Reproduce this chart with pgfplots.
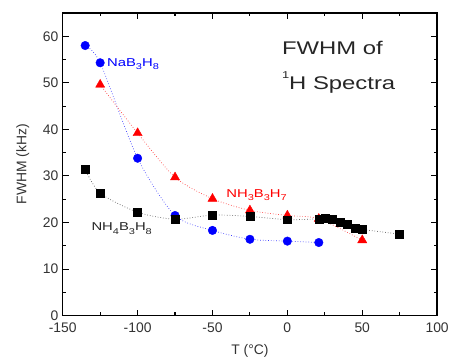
\documentclass[border=0pt]{standalone}
\usepackage{amsmath}
\usepackage{pgfplots}
\pgfplotsset{compat=1.18}
\usepackage{fontspec}
\setmainfont{Liberation Sans}
\newfontfamily\widefont{Liberation Sans}[FakeStretch=1.3]
\begin{document}
\begin{tikzpicture}
\begin{axis}[
  at={(0,0)}, anchor=south west,
  scale only axis, width=376bp, height=304bp,
  xmin=-150, xmax=100, ymin=0, ymax=65,
  xtick={-150,-100,...,100}, ytick={0,10,...,60},
  minor x tick num=1, minor y tick num=1,
  tick align=inside,
  major tick length=6bp, minor tick length=3.5bp,
  axis line style={line width=1.3pt},
  every tick/.style={line width=1.1pt, black},
  /pgf/number format/assume math mode=true,
  ticklabel style={font=\fontsize{14}{15}\selectfont, text=black!80},
  xticklabel style={yshift=-4bp},
  yticklabel style={xshift=-1bp},
  xlabel={T (°C)}, ylabel={FWHM (kHz)},
  label style={font=\fontsize{14}{15}\selectfont, text=black!80},
  xlabel style={at={(axis description cs:0.5,0)}, anchor=north, yshift=-25bp},
  ylabel style={at={(axis description cs:0,0.5)}, anchor=south, xshift=0pt, yshift=30bp},
  clip=false,
]
\addplot[blue!75, dotted, line width=0.7pt, smooth, tension=0.45] coordinates {
(-135,58) (-125,54.3) (-100,33.8) (-75,21.5) (-50,18.3) (-25,16.4) (0,16.0) (21,15.7)};
\addplot[red!75, dotted, line width=0.7pt, smooth, tension=0.45] coordinates {
(-125,49.6) (-100,39.2) (-75,29.7) (-50,25.1) (-25,22.6) (0,21.5) (21,20.8) (50,16.2)};
\addplot[black!65, dotted, line width=0.7pt, smooth, tension=0.45] coordinates {
(-135,31.4) (-125,26.3) (-100,22.2) (-75,20.7) (-50,21.6) (-25,21.3) (0,20.6) (21,20.8) (25,20.9) (30,20.7) (35,20.0) (40,19.6) (45,18.7) (50,18.5) (75,17.5)};
\addplot[only marks, mark=*, blue, mark size=4.3bp] coordinates {
(-135,58) (-125,54.3) (-100,33.8) (-75,21.5) (-50,18.3) (-25,16.4) (0,16.0) (21,15.7)};
\addplot[only marks, mark=triangle*, red, mark size=5.3bp] coordinates {
(-125,49.6) (-100,39.2) (-75,29.7) (-50,25.1) (-25,22.6) (0,21.5) (21,20.8) (50,16.2)};
\addplot[only marks, mark=square*, black, mark size=4bp] coordinates {
(-135,31.4) (-125,26.3) (-100,22.2) (-75,20.7) (-50,21.6) (-25,21.3) (0,20.6) (21,20.8) (25,20.9) (30,20.7) (35,20.0) (40,19.6) (45,18.7) (50,18.5) (75,17.5)};
\node[anchor=base west, blue, font=\widefont\fontsize{11.5}{12}\selectfont, inner sep=0pt] at (axis cs:-120.5,53.5) {NaB\raisebox{-0.3em}{\fontsize{8.5}{9}\selectfont 3}H\raisebox{-0.3em}{\fontsize{8.5}{9}\selectfont 8}};
\node[anchor=base west, red, font=\widefont\fontsize{11.5}{12}\selectfont, inner sep=0pt] at (axis cs:-40.8,25.4) {NH\raisebox{-0.3em}{\fontsize{8.5}{9}\selectfont 3}B\raisebox{-0.3em}{\fontsize{8.5}{9}\selectfont 3}H\raisebox{-0.3em}{\fontsize{8.5}{9}\selectfont 7}};
\node[anchor=base west, black!85, font=\widefont\fontsize{11.5}{12}\selectfont, inner sep=0pt] at (axis cs:-130.9,18.2) {NH\raisebox{-0.3em}{\fontsize{8.5}{9}\selectfont 4}B\raisebox{-0.3em}{\fontsize{8.5}{9}\selectfont 3}H\raisebox{-0.3em}{\fontsize{8.5}{9}\selectfont 8}};
\node[anchor=north west, align=left, font=\widefont\fontsize{18.5}{35}\selectfont, text=black!85, inner sep=0pt] at (axis cs:-3.7,59.0) {FWHM of\\\raisebox{0.55em}{\fontsize{10}{10}\selectfont 1}H Spectra};
\end{axis}
\useasboundingbox (-63bp,-37bp) rectangle (389bp,317bp);
\end{tikzpicture}
\end{document}
